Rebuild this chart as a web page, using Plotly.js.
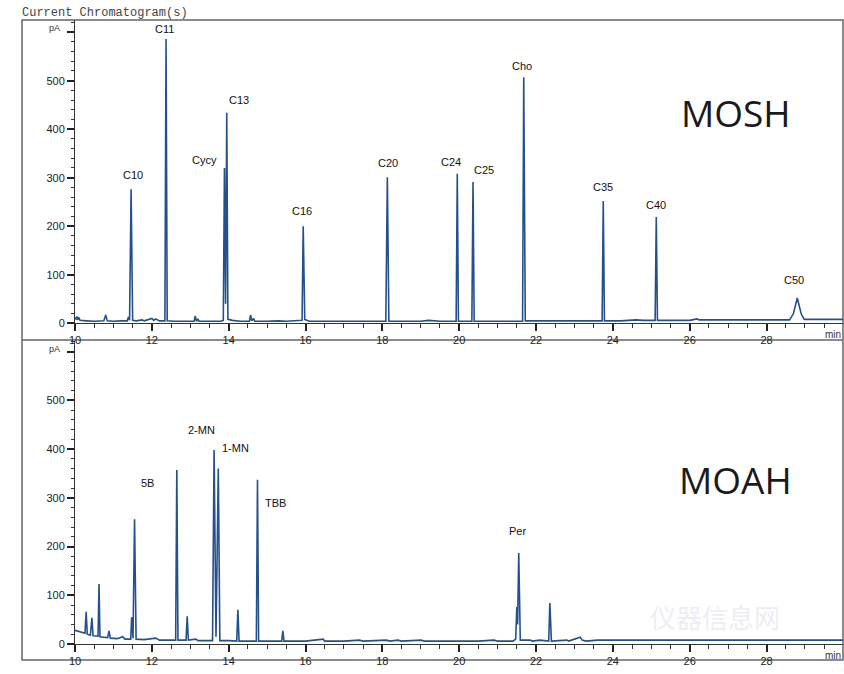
<!DOCTYPE html>
<html>
<head>
<meta charset="utf-8">
<script src="https://cdn.plot.ly/plotly-3.0.1.min.js"></script>
<style>html,body{margin:0;padding:0;background:#fff;}#chart{width:844px;height:674px;}</style>
</head>
<body>
<div id="chart"></div>
<script>
// ---- MOSH trace (time in min, signal in pA) ----
const moshTime = [10.00,10.03,10.05,10.07,10.10,10.13,10.30,10.50,10.75,10.80,10.84,11.00,11.20,11.36,11.39,11.42,11.46,11.50,11.60,11.75,11.80,11.95,12.00,12.05,12.10,12.20,12.34,12.37,12.40,12.60,12.90,13.10,13.13,13.16,13.20,13.23,13.80,13.86,13.89,13.92,13.95,13.98,14.05,14.10,14.30,14.54,14.57,14.60,14.65,14.68,15.00,15.30,15.50,15.70,15.91,15.94,15.98,16.10,16.50,17.00,17.10,18.09,18.13,18.17,18.50,19.00,19.20,19.50,19.92,19.95,19.98,20.33,20.36,20.39,20.60,20.80,21.00,21.30,21.65,21.68,21.72,22.00,22.50,23.00,23.50,23.72,23.75,23.78,24.20,24.60,24.80,25.10,25.13,25.16,25.50,26.00,26.19,26.25,26.80,27.00,27.70,28.00,28.60,28.70,28.80,28.90,28.98,29.50,30.00];
const moshPA   = [12,8,14,7,12,6,5,4,5,17,5,4,5,5,13,6,276,6,5,7,5,8,10,6,9,5,5,586,5,4,4,4,15,4,9,4,4,6,320,40,434,8,7,6,4,4,17,5,10,4,4,5,4,5,6,200,8,4,4,5,5,4,301,4,4,4,6,4,4,308,4,4,291,4,4,4,4,4,4,507,5,5,5,5,5,5,252,5,5,7,6,6,219,6,6,6,9,7,7,7,7,7,7,20,52,20,8,8,8];

// ---- MOAH trace ----
const moahTime = [10.00,10.10,10.20,10.26,10.29,10.32,10.40,10.44,10.47,10.55,10.60,10.625,10.65,10.75,10.85,10.885,10.92,11.10,11.24,11.30,11.45,11.475,11.51,11.55,11.59,11.80,12.10,12.20,12.62,12.65,12.68,12.89,12.92,12.95,13.10,13.15,13.20,13.58,13.62,13.67,13.73,13.77,14.00,14.21,14.24,14.27,14.72,14.75,14.78,15.10,15.38,15.41,15.44,15.80,16.00,16.46,16.50,17.00,17.40,17.50,18.10,18.20,18.40,18.50,19.00,19.10,20.00,20.50,20.90,21.00,21.40,21.47,21.50,21.52,21.55,21.59,21.85,21.90,22.10,22.33,22.36,22.40,22.80,22.85,23.15,23.20,23.30,23.60,24.00,24.40,24.80,25.20,26.00,27.00,28.00,29.00,30.00];
const moahPA   = [28,26,23,22,66,20,18,54,17,16,16,123,15,14,13,27,12,11,15,10,10,55,12,256,10,9,12,8,8,357,8,8,57,8,10,10,7,7,398,15,360,7,7,6,70,6,6,337,6,6,6,27,6,6,6,10,6,6,8,6,8,6,8,6,8,6,6,6,8,6,6,10,76,40,187,8,8,6,8,6,84,6,8,6,14,8,6,8,8,8,8,8,8,8,8,8,8];

// ---- peak labels ----
const moshLabels = ["C10","C11","Cycy","C13","C16","C20","C24","C25","Cho","C35","C40","C50"];
const moshLabelT = [11.52,12.33,13.37,14.28,15.91,18.15,19.79,20.65,21.63,23.75,25.13,28.72];
const moshLabelV = [306,606,337,460,231,330,333,315,530,281,244,89];
const moahLabels = ["5B","2-MN","1-MN","TBB","Per"];
const moahLabelT = [11.89,13.28,14.19,15.21,21.53];
const moahLabelV = [330,440,403,289,231];

const lineColor = 'rgb(36,80,140)';
const tickFont = {family:'Liberation Sans, Arial, sans-serif', size:11, color:'#222'};
const X_RANGE = [10,29.99];
const Y_TOP = 625, Y_BOTTOM = 622;
const TOP_DOMAIN = [0.514,1], BOTTOM_DOMAIN = [0,0.4856];

const traces = [
  {x: moshTime, y: moshPA, xaxis:'x', yaxis:'y', type:'scatter', mode:'lines',
   line:{color:lineColor, width:1.6}, hoverinfo:'skip'},
  {x: moahTime, y: moahPA, xaxis:'x2', yaxis:'y2', type:'scatter', mode:'lines',
   line:{color:lineColor, width:1.6}, hoverinfo:'skip'}
];

function xAxis(anchor){
  return {domain:[0,1], range:X_RANGE, anchor:anchor, tickmode:'linear', tick0:10, dtick:2,
    ticks:'outside', ticklen:7, tickwidth:1.5, tickcolor:'#222', showline:true, linecolor:'#333', linewidth:1,
    gridcolor:'rgba(0,0,0,0)', zeroline:false, tickfont:tickFont,
    minor:{ticks:'outside', tick0:10, dtick:0.5, ticklen:4, tickwidth:1.3, tickcolor:'#333', gridcolor:'rgba(0,0,0,0)'}};
}
function yAxis(anchor, dom, top){
  return {domain:dom, range:[0,top], anchor:anchor, tickmode:'linear', tick0:0, dtick:100,
    labelalias:{'600':' '},
    ticks:'outside', ticklen:7, tickwidth:1.5, tickcolor:'#222', showline:true, linecolor:'#333', linewidth:1,
    gridcolor:'rgba(0,0,0,0)', zeroline:false, tickfont:tickFont,
    minor:{ticks:'outside', tick0:0, dtick:20, ticklen:3, tickwidth:1.3, tickcolor:'#333', gridcolor:'rgba(0,0,0,0)'}};
}

const annotations = [];
moshLabels.forEach((t,i)=>annotations.push({text:t, x:moshLabelT[i], y:moshLabelV[i], xref:'x', yref:'y',
  showarrow:false, font:{family:'Liberation Sans, Arial, sans-serif', size:11, color:'#111'}}));
moahLabels.forEach((t,i)=>annotations.push({text:t, x:moahLabelT[i], y:moahLabelV[i], xref:'x2', yref:'y2',
  showarrow:false, font:{family:'Liberation Sans, Arial, sans-serif', size:11, color:'#111'}}));
annotations.push({text:'MOSH', x:27.2, y:434, xref:'x', yref:'y', showarrow:false,
  font:{family:'Open Sans, sans-serif', size:37, color:'#1a1a1a'}});
annotations.push({text:'MOAH', x:27.2, y:337, xref:'x2', yref:'y2', showarrow:false,
  font:{family:'Open Sans, sans-serif', size:37, color:'#1a1a1a'}});
// unit labels
annotations.push({text:'pA', x:-0.017, y:1, xref:'paper', yref:'paper', xanchor:'right', yanchor:'top', yshift:-1,
  showarrow:false, font:{family:'Liberation Sans, Arial, sans-serif', size:9, color:'#333'}});
annotations.push({text:'pA', x:-0.017, y:BOTTOM_DOMAIN[1], xref:'paper', yref:'paper', xanchor:'right', yanchor:'top', yshift:-1,
  showarrow:false, font:{family:'Liberation Sans, Arial, sans-serif', size:9, color:'#333'}});
annotations.push({text:'min', x:1, y:TOP_DOMAIN[0], xref:'paper', yref:'paper', xanchor:'right', yanchor:'top', yshift:-4,
  showarrow:false, font:{family:'Liberation Sans, Arial, sans-serif', size:10, color:'#333'}});
annotations.push({text:'min', x:1, y:0, xref:'paper', yref:'paper', xanchor:'right', yanchor:'top', yshift:-4,
  showarrow:false, font:{family:'Liberation Sans, Arial, sans-serif', size:10, color:'#333'}});
// faint watermark
annotations.push({text:'仪器信息网', x:0.92, y:0.012, xref:'paper', yref:'paper', showarrow:false,
  font:{family:'Noto Sans CJK SC, sans-serif', size:26, color:'rgba(200,205,215,0.35)'}});

const frameColor = '#666';
const shapes = [
  {type:'rect', xref:'paper', yref:'paper', x0:-0.069, x1:1, y0:-0.0256, y1:1, layer:'below', line:{color:frameColor, width:1.5}},
  {type:'line', xref:'paper', yref:'paper', x0:-0.069, x1:1, y0:0.4872, y1:0.4872, layer:'below', line:{color:frameColor, width:1.5}}
];

const layout = {
  width:844, height:674,
  margin:{l:75, r:1, t:20, b:30},
  paper_bgcolor:'#fff', plot_bgcolor:'#fff',
  showlegend:false,
  title:{text:'Current Chromatogram(s)', x:22/844, xanchor:'left', y:1-11.5/674, yanchor:'middle',
    font:{family:'Liberation Mono, Courier New, monospace', size:12, color:'#444'}},
  xaxis: xAxis('y'),
  yaxis: yAxis('x', TOP_DOMAIN, Y_TOP),
  xaxis2: xAxis('y2'),
  yaxis2: yAxis('x2', BOTTOM_DOMAIN, Y_BOTTOM),
  annotations: annotations,
  shapes: shapes
};

Plotly.newPlot('chart', traces, layout, {displayModeBar:false});
</script>
</body>
</html>
